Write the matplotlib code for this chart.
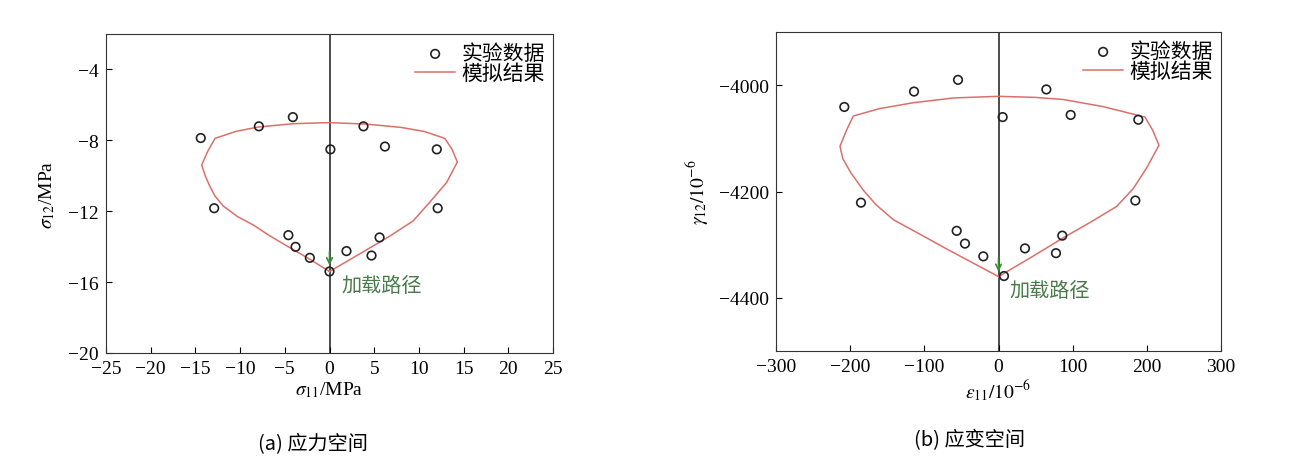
import matplotlib
matplotlib.use('Agg')
import matplotlib.pyplot as plt
import numpy as np

plt.rcParams['font.family'] = ['Liberation Serif', 'Noto Sans CJK SC']
plt.rcParams['mathtext.fontset'] = 'stix'

# (a) stress space
stress_exp_x = [-14.4, -7.9, -4.1, 3.8, 0.1, 6.2, 12.0, -12.9, 12.1, -4.6, -3.8, -2.2, 0.0, 1.9, 4.7, 5.6]
stress_exp_y = [-7.87, -7.21, -6.69, -7.21, -8.51, -8.35, -8.51, -11.83, -11.83, -13.35, -14.01, -14.63, -15.4, -14.25, -14.5, -13.48]
stress_sim_x = [0.0, -2.4, -4.8, -6.8, -8.55, -10.3, -11.9, -12.8, -13.4, -13.9, -14.3, -13.6, -12.8,
                -10.5, -8.0, -4.0, 0.0, 4.0, 8.0, 10.6, 12.9, 13.7, 14.3, 13.1, 11.2, 9.35, 6.75, 3.4, 0.0]
stress_sim_y = [-15.4, -14.65, -13.95, -13.35, -12.77, -12.3, -11.7, -11.15, -10.58, -10.0, -9.39, -8.6, -7.89,
                -7.5, -7.25, -7.06, -7.0, -7.08, -7.27, -7.5, -7.89, -8.5, -9.22, -10.38, -11.5, -12.55, -13.4, -14.4, -15.4]

# (b) strain space
strain_exp_x = [-207.9, -113.9, -54.6, 64.5, 5.6, 97.3, 188.5, -185.4, 184.5, -56.4, -45.2, -20.5, 7.4, 35.7, 77.5, 86.0]
strain_exp_y = [-4041, -4012, -3990, -4008, -4060, -4056, -4065, -4221, -4217, -4274, -4298, -4322, -4359, -4307, -4316, -4283]
strain_sim_x = [0.0, -35.0, -70.0, -105.0, -141.8, -165.0, -182.0, -199.0, -210.0, -213.7, -205.0, -195.8,
                -160.0, -114.8, -60.0, 0.0, 50.0, 87.4, 140.0, 197.5, 208.0, 216.4, 200.0, 182.0, 159.4, 125.0, 87.4, 45.0, 0.0]
strain_sim_y = [-4360, -4334, -4308, -4281, -4253, -4225, -4198, -4165, -4138, -4115, -4085, -4058,
                -4044, -4033, -4024, -4021, -4023, -4027, -4040, -4060, -4085, -4113, -4155, -4194, -4228, -4257, -4287, -4323, -4360]

cn = ['Noto Sans CJK SC', 'DejaVu Sans']

fig = plt.figure(figsize=(12.9, 4.64), dpi=100)
ax1 = fig.add_axes([106/1290, 1-354/464, 447/1290, 319/464])
ax2 = fig.add_axes([776/1290, 1-352/464, 445/1290, 319/464])

def draw_panel(ax, ex, ey, sx, sy, tip_y, text_xy):
    ax.axvline(0, color='#2a302a', lw=1.2, zorder=1)
    ax.plot(sx, sy, color='#d9706a', lw=1.1, label='模拟结果', zorder=2)
    ax.scatter(ex, ey, s=38, facecolors='none', edgecolors='#222222', linewidths=1.2,
               label='实验数据', zorder=3)
    y0, y1 = ax.get_ylim()
    ax.annotate('', xy=(0, tip_y), xytext=(0, tip_y + (y1 - y0) * 0.06),
                arrowprops=dict(arrowstyle='->', color='#3a8a3a', lw=1.2), zorder=4)
    ax.text(text_xy[0], text_xy[1], '加载路径', family=cn, fontsize=14.5, color='#4a7a4a',
            va='center', ha='left')
    ax.tick_params(direction='in', labelsize=14, top=False, right=False, length=4, pad=5)
    for sp in ax.spines.values():
        sp.set_color('#333333')
    h, l = ax.get_legend_handles_labels()
    ax.legend(h[::-1], l[::-1], loc='upper right', frameon=False, prop={'family': cn, 'size': 15},
              handlelength=1.9, handletextpad=0.3, borderaxespad=0.0, labelspacing=-0.1)

ax1.set_xlim(-25, 25)
ax1.set_ylim(-20, -2)
ax1.set_xticks(np.arange(-25, 26, 5))
ax1.set_yticks([-20, -16, -12, -8, -4])
ax1.set_xticklabels(['\u221225', '\u221220', '\u221215', '\u221210', '\u22125', '0', '5', '10', '15', '20', '25'])
ax1.set_yticklabels(['\u221220', '\u221216', '\u221212', '\u22128', '\u22124'])
draw_panel(ax1, stress_exp_x, stress_exp_y, stress_sim_x, stress_sim_y, -15.2, (1.3, -16.2))
ax1.set_xlabel(r'$\sigma_{11}$/MPa', fontsize=14, labelpad=2)
ax1.set_ylabel(r'$\sigma_{12}$/MPa', fontsize=14, labelpad=8)

ax2.set_xlim(-300, 300)
ax2.set_ylim(-4500, -3900)
ax2.set_xticks(np.arange(-300, 301, 100))
ax2.set_yticks([-4400, -4200, -4000])
ax2.set_xticklabels(['\u2212300', '\u2212200', '\u2212100', '0', '100', '200', '300'])
ax2.set_yticklabels(['\u22124400', '\u22124200', '\u22124000'])
draw_panel(ax2, strain_exp_x, strain_exp_y, strain_sim_x, strain_sim_y, -4356, (15, -4387))
ax2.set_xlabel(r'$\varepsilon_{11}/10^{-6}$', fontsize=14, labelpad=2)
ax2.set_ylabel(r'$\gamma_{12}/10^{-6}$', fontsize=14, labelpad=6)

fig.text(313/1290, 1-444/464, '(a) 应力空间', family=cn, fontsize=14.5, ha='center', va='center')
fig.text(970/1290, 1-441/464, '(b) 应变空间', family=cn, fontsize=14.5, ha='center', va='center')

fig.savefig('out.png', dpi=100)
